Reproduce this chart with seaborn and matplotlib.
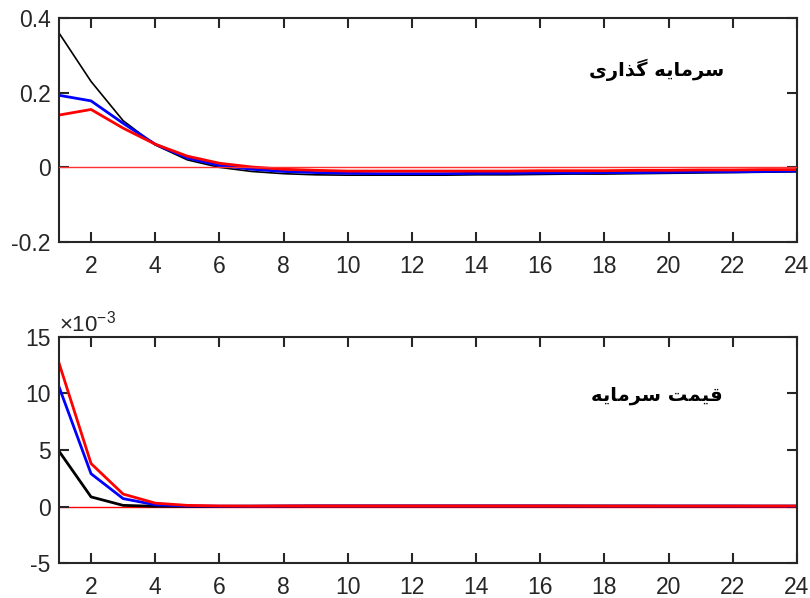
import matplotlib
matplotlib.use("Agg")
import matplotlib.pyplot as plt
import seaborn as sns

periods = list(range(1, 25))

# investment response
inv_black = [0.360, 0.230, 0.125, 0.060, 0.020, 0.000, -0.011, -0.017, -0.020, -0.021,
             -0.021, -0.021, -0.021, -0.020, -0.020, -0.019, -0.018, -0.018, -0.017, -0.016,
             -0.015, -0.014, -0.013, -0.012]
inv_blue = [0.193, 0.178, 0.118, 0.062, 0.025, 0.005, -0.005, -0.011, -0.014, -0.016,
            -0.017, -0.017, -0.017, -0.016, -0.016, -0.015, -0.015, -0.014, -0.014, -0.013,
            -0.012, -0.012, -0.011, -0.010]
inv_red = [0.140, 0.155, 0.105, 0.062, 0.030, 0.011, 0.001, -0.005, -0.008, -0.010,
           -0.010, -0.010, -0.010, -0.010, -0.010, -0.009, -0.009, -0.009, -0.008, -0.008,
           -0.007, -0.007, -0.006, -0.006]

# capital price response (x 1e-3)
price_black = [4.9, 0.85, 0.10, 0.02, 0.01, 0.01, 0.02, 0.03, 0.04, 0.04,
               0.04, 0.04, 0.04, 0.04, 0.04, 0.04, 0.04, 0.04, 0.04, 0.03,
               0.03, 0.03, 0.03, 0.03]
price_blue = [10.6, 2.9, 0.70, 0.15, 0.05, 0.03, 0.03, 0.04, 0.05, 0.05,
              0.05, 0.05, 0.05, 0.05, 0.05, 0.05, 0.04, 0.04, 0.04, 0.04,
              0.04, 0.04, 0.03, 0.03]
price_red = [12.7, 3.8, 1.10, 0.30, 0.10, 0.05, 0.04, 0.05, 0.05, 0.05,
             0.05, 0.05, 0.05, 0.05, 0.05, 0.05, 0.05, 0.04, 0.04, 0.04,
             0.04, 0.04, 0.04, 0.04]

# Persian titles in presentation forms, visual order
title_inv = "\uFEB3\uFEAE\uFEE3\uFE8E\uFBFE\uFEEA \uFB94\uFEAC\uFE8D\uFEAD\uFBFC"[::-1]
title_price = "\uFED7\uFBFF\uFEE4\uFE96 \uFEB3\uFEAE\uFEE3\uFE8E\uFBFE\uFEEA"[::-1]

plt.rcParams["font.family"] = ["Liberation Sans", "DejaVu Sans"]
plt.rcParams["mathtext.fontset"] = "custom"
plt.rcParams["mathtext.rm"] = "Liberation Sans"
plt.rcParams["mathtext.it"] = "Liberation Sans"
dark = "#262626"

fig = plt.figure(figsize=(8.1, 5.98), dpi=100)
ax1 = fig.add_axes([0.0728, 0.5953, 0.911, 0.3746])
ax2 = fig.add_axes([0.0728, 0.0585, 0.911, 0.378])

sns.lineplot(x=periods, y=inv_black, ax=ax1, color="black", lw=1.2)
sns.lineplot(x=periods, y=inv_blue, ax=ax1, color="blue", lw=2)
sns.lineplot(x=periods, y=inv_red, ax=ax1, color="red", lw=2)
ax1.axhline(0, color="#ff3030", lw=1, zorder=4)
ax1.set_ylim(-0.2, 0.4)
ax1.set_yticks([-0.2, 0, 0.2, 0.4])
ax1.set_yticklabels(["-0.2", "0", "0.2", "0.4"])
ax1.text(0.81, 0.77, title_inv, transform=ax1.transAxes, ha="center", va="center",
         fontsize=14, fontweight="bold", family=["DejaVu Sans"])

scaled = lambda v: [p * 1e-3 for p in v]
sns.lineplot(x=periods, y=scaled(price_black), ax=ax2, color="black", lw=2)
sns.lineplot(x=periods, y=scaled(price_blue), ax=ax2, color="blue", lw=2)
sns.lineplot(x=periods, y=scaled(price_red), ax=ax2, color="red", lw=2)
ax2.axhline(0, color="red", lw=1, zorder=1)
ax2.set_ylim(-0.005, 0.015)
ax2.set_yticks([-0.005, 0, 0.005, 0.010, 0.015])
ax2.set_yticklabels(["-5", "0", "5", "10", "15"])
ax2.text(0.0, 1.0, r"$\times$10$^{-3}$", transform=ax2.transAxes, ha="left", va="bottom",
         fontsize=16, color=dark)
ax2.text(0.81, 0.74, title_price, transform=ax2.transAxes, ha="center", va="center",
         fontsize=14, fontweight="bold", family=["DejaVu Sans"])

for ax in (ax1, ax2):
    ax.set_xlim(1, 24)
    ax.set_xticks(range(2, 25, 2))
    ax.tick_params(direction="in", top=True, right=True, length=7, width=1.5,
                   colors=dark, labelsize=16.5)
    ax.tick_params(axis="x", pad=9)
    ax.tick_params(axis="y", pad=6)
    for s in ax.spines.values():
        s.set_linewidth(1.5)
        s.set_color(dark)
    ax.set_xlabel("")
    ax.set_ylabel("")

fig.savefig("out.png", dpi=100)
